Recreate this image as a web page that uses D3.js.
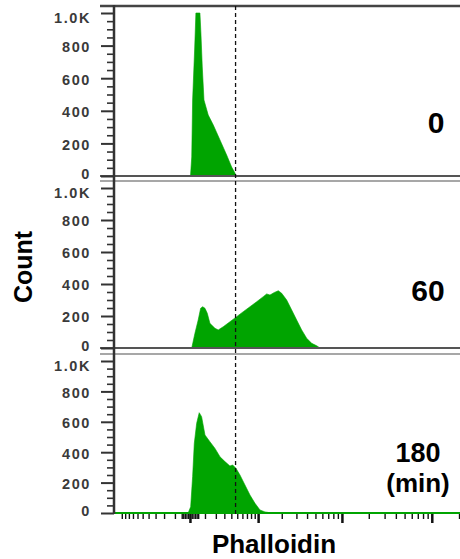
<!DOCTYPE html>
<html>
<head>
<meta charset="utf-8">
<script src="https://cdn.jsdelivr.net/npm/d3@7"></script>
<style>
  body { margin: 0; background: #fff; }
  text { font-family: "Liberation Sans", Arial, sans-serif; }
</style>
</head>
<body>
<div id="chart"></div>
<script>
// Phalloidin histograms, 0 / 60 / 180 min
var timeLabels = ['0', '60', '180'];

var phalloidin0 = [3, 10, 15, 27, 35, 62, 69, 79, 92, 127, 174, 246, 331, 405, 460, 477];
var count0 = [0, 117, 466, 773, 1000, 1000, 877, 669, 466, 374, 313, 221, 129, 55, 18, 0];

var phalloidin60 = [10, 29, 50, 67, 82, 100, 119, 142, 191, 226, 286, 379, 490, 618, 773,
                    956, 1170, 1295, 1427, 1603, 1813, 1996, 2295, 2635, 3022, 3460, 3957, 4524, 5165, 5635];
var count60 = [0, 92, 175, 248, 258, 248, 217, 154, 123, 113, 133, 164, 196, 227, 258,
               289, 321, 338, 331, 346, 358, 342, 300, 238, 175, 113, 61, 29, 14, 0];

var phalloidin180 = [-10, 4, 15, 25, 40, 57, 74, 100, 142, 191, 246, 308, 379, 421, 477,
                     551, 655, 773, 907, 1058, 1231, 1500];
var count180 = [0, 41, 239, 458, 590, 660, 634, 513, 469, 425, 370, 338, 309, 316, 294,
                250, 184, 118, 64, 20, 7, 0];

var gateValue = 470;

var yTickValues = [0, 200, 400, 600, 800, 1000];
var yTickLabels = ['0', '200', '400', '600', '800', '1.0K'];
var xMajorTicks = [0, 1000, 10000, 100000];

var series = [
    {x: phalloidin0, y: count0},
    {x: phalloidin60, y: count60},
    {x: phalloidin180, y: count180}
];

var svgWidth = 460;
var svgHeight = 559;
var green = '#00a400';

var svg = d3.select('#chart')
    .append('svg')
    .attr('width', svgWidth)
    .attr('height', svgHeight);

var axisX = 114;

// logicle-like x axis
var xScale = d3.scaleSymlog()
    .constant(215)
    .domain([-1266, 205000])
    .range([axisX, svgWidth]);

var panels = [
    {top: 6, bottom: 176},
    {top: 181, bottom: 348},
    {top: 354, bottom: 513}
];

var yMinor = d3.range(0, 1001, 50).filter(d => d % 200 != 0);

panels.forEach(function(p, i) {
    var yScale = d3.scaleLinear()
        .domain([0, 1000])
        .range([p.bottom, p.top + 7]);

    var pts = series[i].x.map((v, k) => [v, series[i].y[k]]);

    var area = d3.area()
        .x(d => xScale(d[0]))
        .y0(yScale(0))
        .y1(d => yScale(d[1]));

    svg.append('path')
        .datum(pts)
        .attr('d', area)
        .attr('fill', green)
        .attr('stroke', green)
        .attr('stroke-width', 0.6);

    // frame lines
    svg.append('line')
        .attr('x1', 100).attr('x2', svgWidth)
        .attr('y1', p.top).attr('y2', p.top)
        .attr('stroke', i == 0 ? '#444' : '#8a8a8a')
        .attr('stroke-width', i == 0 ? 2.5 : 1.3);

    svg.append('line')
        .attr('x1', i == 2 ? axisX : 100).attr('x2', svgWidth)
        .attr('y1', p.bottom).attr('y2', p.bottom)
        .attr('stroke', i == 2 ? green : '#555')
        .attr('stroke-width', i == 2 ? 2 : 2.2);

    // y axis
    var yAxis = svg.append('g')
        .attr('transform', `translate(${axisX}, 0)`)
        .call(d3.axisLeft(yScale)
            .tickValues(yTickValues)
            .tickFormat((d, k) => yTickLabels[k])
            .tickSize(13)
            .tickPadding(10));
    yAxis.select('.domain').remove();
    yAxis.selectAll('line').attr('stroke', '#333').attr('stroke-width', 2);
    yAxis.selectAll('text')
        .attr('font-family', '"DejaVu Sans", sans-serif')
        .attr('font-weight', 'bold')
        .attr('font-size', '14.5px')
        .attr('letter-spacing', '1.6px')
        .attr('fill', '#3a3a3a')
        .attr('dy', d => d == 1000 ? '0.62em' : (d == 0 ? '0.2em' : '0.4em'));

    var yMinorAxis = svg.append('g')
        .attr('transform', `translate(${axisX}, 0)`)
        .call(d3.axisLeft(yScale).tickValues(yMinor).tickSize(7).tickFormat(''));
    yMinorAxis.select('.domain').remove();
    yMinorAxis.selectAll('line').attr('stroke', '#333').attr('stroke-width', 1.6);
});

// y axis line
svg.append('line')
    .attr('x1', axisX).attr('x2', axisX)
    .attr('y1', 5).attr('y2', 514)
    .attr('stroke', '#333')
    .attr('stroke-width', 2.5);

// x axis ticks
var xMinor = [].concat(
    d3.range(-1000, 0, 100), d3.range(-50, 0, 10), d3.range(10, 51, 10),
    d3.range(100, 1000, 100), d3.range(2000, 10000, 1000),
    d3.range(20000, 100000, 10000), [200000]);

var xMinorAxis = svg.append('g')
    .attr('transform', 'translate(0, 514)')
    .call(d3.axisBottom(xScale).tickValues(xMinor).tickSize(5).tickFormat(''));
xMinorAxis.select('.domain').remove();
xMinorAxis.selectAll('line').attr('stroke', '#111').attr('stroke-width', 1.4);

var xMajorAxis = svg.append('g')
    .attr('transform', 'translate(0, 514)')
    .call(d3.axisBottom(xScale).tickValues(xMajorTicks).tickSize(9).tickFormat(''));
xMajorAxis.select('.domain').remove();
xMajorAxis.selectAll('line').attr('stroke', '#111').attr('stroke-width', 2.5);

// gate line
svg.append('line')
    .attr('x1', xScale(gateValue)).attr('x2', xScale(gateValue))
    .attr('y1', 6).attr('y2', 516)
    .attr('stroke', '#111')
    .attr('stroke-width', 1.3)
    .attr('stroke-dasharray', '4,3');

// time labels
svg.append('text')
    .attr('x', 436).attr('y', 133)
    .attr('text-anchor', 'middle')
    .attr('font-size', '30px').attr('font-weight', 'bold')
    .text(timeLabels[0]);

svg.append('text')
    .attr('x', 428).attr('y', 301)
    .attr('text-anchor', 'middle')
    .attr('font-size', '30px').attr('font-weight', 'bold')
    .text(timeLabels[1]);

svg.append('text')
    .attr('x', 418).attr('y', 462)
    .attr('text-anchor', 'middle')
    .attr('font-size', '27px').attr('font-weight', 'bold')
    .text(timeLabels[2]);

svg.append('text')
    .attr('x', 418).attr('y', 492)
    .attr('text-anchor', 'middle')
    .attr('font-size', '26px').attr('font-weight', 'bold')
    .text('(min)');

// axis titles
svg.append('text')
    .attr('transform', 'translate(32, 267) rotate(-90)')
    .attr('text-anchor', 'middle')
    .attr('font-size', '25px').attr('font-weight', 'bold')
    .text('Count');

svg.append('text')
    .attr('x', 274).attr('y', 553)
    .attr('text-anchor', 'middle')
    .attr('font-size', '26px').attr('font-weight', 'bold')
    .text('Phalloidin');
</script>
</body>
</html>
